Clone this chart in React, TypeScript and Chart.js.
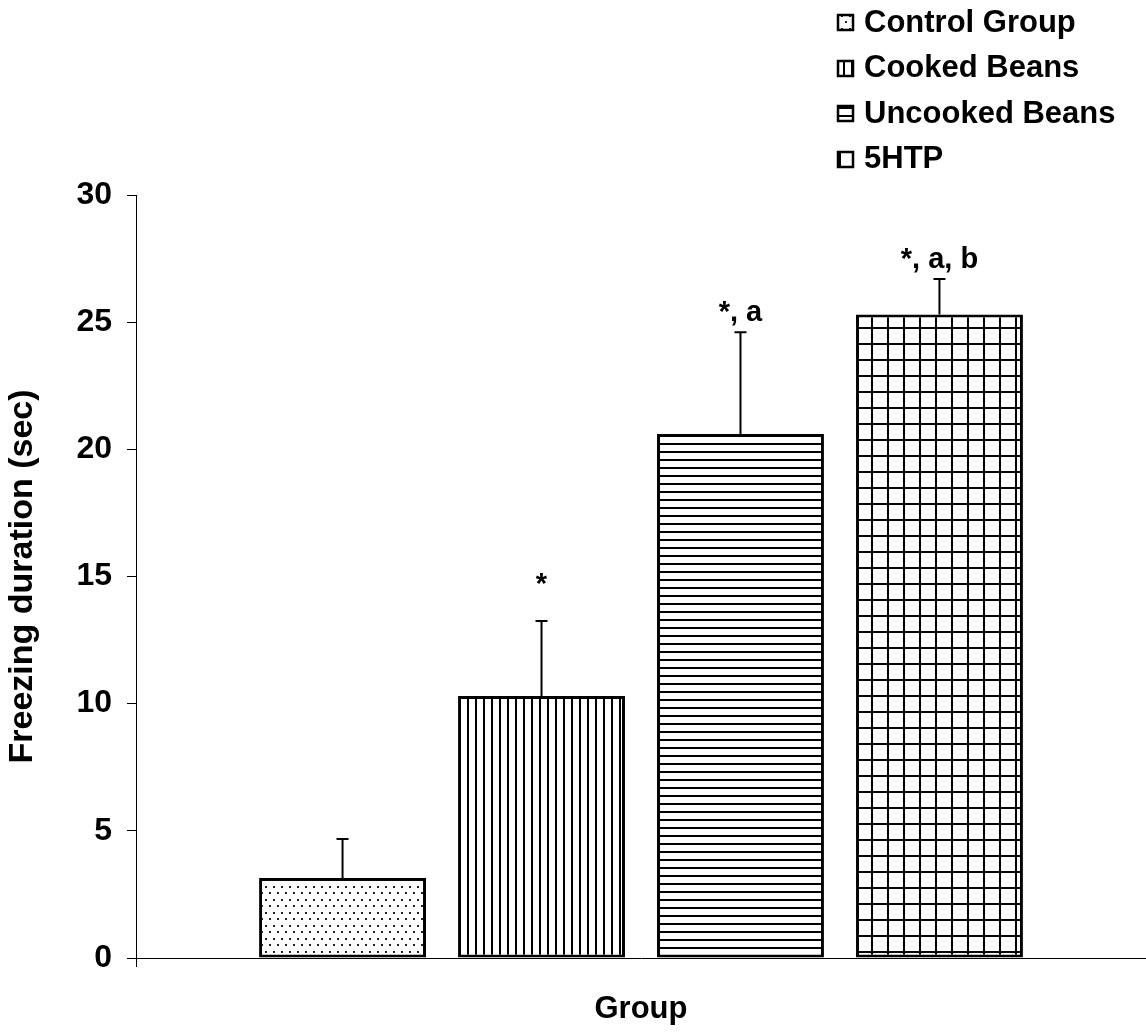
import React, { useEffect, useRef } from 'react';
import { Chart, registerables } from 'chart.js';

Chart.register(...registerables);

const groups = ['Control Group', 'Cooked Beans', 'Uncooked Beans', '5HTP'];
const means = [3.15, 10.3, 20.6, 25.3];
const errors = [1.53, 2.95, 4.0, 1.4];
const sigLabels = ['', '*', '*, a', '*, a, b'];
const categoryLabels = ['Group'];
const yMin = 0;
const yMax = 30;
const yStep = 5;
const xTitle = 'Group';
const yTitle = 'Freezing duration (sec)';
const patternKinds = ['dots', 'vlines', 'hlines', 'grid'];

const FONT = '"Liberation Sans", Arial, sans-serif';

function makePattern(kind: string): CanvasPattern | string {
  const c = document.createElement('canvas');
  let w = 8, h = 8;
  if (kind === 'dots') { w = 8; h = 13; }
  if (kind === 'grid') { w = 16; h = 16; }
  c.width = w; c.height = h;
  const g = c.getContext('2d')!;
  g.fillStyle = '#ffffff';
  g.fillRect(0, 0, w, h);
  g.fillStyle = '#000000';
  if (kind === 'dots') {
    g.fillStyle = '#222222';
    g.fillRect(1, 2, 2, 2);
    g.fillRect(5, 8, 2, 2);
  } else if (kind === 'vlines') {
    g.fillRect(3, 0, 2, h);
  } else if (kind === 'hlines') {
    g.fillRect(0, 3, w, 2);
  } else if (kind === 'grid') {
    g.fillRect(7, 0, 2, h);
    g.fillRect(0, 7, w, 2);
  }
  const p = g.createPattern(c, 'repeat');
  return p || '#ffffff';
}

export default function App() {
  const ref = useRef<HTMLCanvasElement | null>(null);

  useEffect(() => {
    document.body.style.margin = '0';
    const canvas = ref.current!;
    const patterns = patternKinds.map(makePattern);

    const overlay = {
      id: 'overlay',
      afterDatasetsDraw(chart: any) {
        const ctx = chart.ctx as CanvasRenderingContext2D;
        const ys = chart.scales.y;
        ctx.save();
        means.forEach((m, i) => {
          const bar = chart.getDatasetMeta(i).data[0];
          const x = bar.x;
          const yTop = ys.getPixelForValue(m);
          const yErr = ys.getPixelForValue(m + errors[i]);
          ctx.strokeStyle = '#000';
          ctx.lineWidth = 2;
          ctx.beginPath();
          ctx.moveTo(x, yTop);
          ctx.lineTo(x, yErr);
          ctx.moveTo(x - 6, yErr);
          ctx.lineTo(x + 6, yErr);
          ctx.stroke();
          if (sigLabels[i]) {
            ctx.fillStyle = '#000';
            ctx.font = `bold 29px ${FONT}`;
            ctx.textAlign = 'center';
            ctx.textBaseline = 'alphabetic';
            const lift = sigLabels[i] === '*' ? 28 : 11;
            ctx.fillText(sigLabels[i], x, yErr - lift);
          }
        });
        // legend
        groups.forEach((name, i) => {
          const cy = 22 + i * 45.6;
          const bx = 837, by = Math.round(cy - 8);
          ctx.fillStyle = patterns[i] as any;
          ctx.fillRect(bx, by, 17, 17);
          ctx.strokeStyle = '#000';
          ctx.lineWidth = 2.5;
          ctx.strokeRect(bx + 1, by + 1, 15, 15);
          ctx.fillStyle = '#000';
          ctx.font = `bold 31px ${FONT}`;
          ctx.textAlign = 'left';
          ctx.textBaseline = 'middle';
          ctx.fillText(name, 864, cy + 1);
        });
        ctx.restore();
      },
    };

    const chart = new Chart(canvas, {
      type: 'bar',
      data: {
        labels: categoryLabels,
        datasets: groups.map((g, i) => ({
          label: g,
          data: [means[i]],
          backgroundColor: patterns[i] as any,
          borderColor: '#000',
          borderWidth: 3,
          borderSkipped: false,
          categoryPercentage: 0.788,
          barPercentage: 0.839,
        })),
      },
      options: {
        responsive: false,
        animation: false,
        layout: { padding: { top: 195, right: 0, left: 0, bottom: 0 } },
        plugins: {
          legend: { display: false },
          tooltip: { enabled: false },
          title: { display: false },
        },
        scales: {
          x: {
            offset: true,
            afterFit: (s: any) => { s.height = 74; },
            ticks: { display: false },
            grid: {
              display: true,
              drawOnChartArea: false,
              drawTicks: true,
              tickLength: 9,
              color: '#000',
              tickColor: '#000',
              offset: true,
            },
            border: { display: true, color: '#000', width: 1 },
            title: {
              display: true,
              text: xTitle,
              color: '#000',
              font: { family: FONT, size: 31, weight: 'bold' },
              padding: { top: 0, bottom: 4 },
            },
          },
          y: {
            min: yMin,
            max: yMax,
            afterFit: (s: any) => { s.width = 136; },
            ticks: {
              stepSize: yStep,
              color: '#000',
              padding: 15,
              font: { family: FONT, size: 32, weight: 'bold' },
            },
            grid: {
              drawOnChartArea: false,
              drawTicks: true,
              tickLength: 9,
              tickColor: '#000',
              color: '#000',
            },
            border: { display: true, color: '#000', width: 1 },
            title: {
              display: true,
              text: yTitle,
              color: '#000',
              font: { family: FONT, size: 34, weight: 'bold' },
              padding: { top: 2, bottom: 0 },
            },
          },
        },
      },
      plugins: [overlay],
    });
    return () => chart.destroy();
  }, []);

  return (
    <div style={{ position: 'absolute', left: 0, top: 0, width: 1146, height: 1032 }}>
      <canvas ref={ref} width={1146} height={1032} />
    </div>
  );
}
